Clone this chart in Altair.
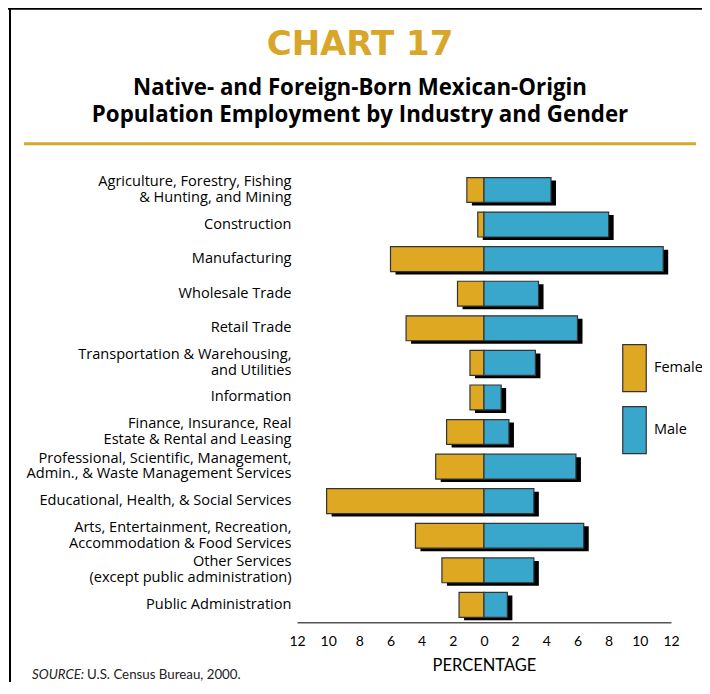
import altair as alt
import pandas as pd

industries = [
    "Agriculture, Forestry, Fishing\n& Hunting, and Mining",
    "Construction",
    "Manufacturing",
    "Wholesale Trade",
    "Retail Trade",
    "Transportation & Warehousing,\nand Utilities",
    "Information",
    "Finance, Insurance, Real \nEstate & Rental and Leasing",
    "Professional, Scientific, Management,\nAdmin., & Waste Management Services",
    "Educational, Health, & Social Services",
    "Arts, Entertainment, Recreation,\nAccommodation & Food Services",
    "Other Services\n(except public administration)",
    "Public Administration",
]
female = [1.1, 0.4, 6.0, 1.7, 5.0, 0.9, 0.9, 2.4, 3.1, 10.1, 4.4, 2.7, 1.6]
male = [4.3, 8.0, 11.5, 3.5, 6.0, 3.3, 1.1, 1.6, 5.9, 3.2, 6.4, 3.2, 1.5]
x_ticks = [-12, -10, -8, -6, -4, -2, 0, 2, 4, 6, 8, 10, 12]

chart_label = "CHART 17"
subtitle_lines = ["Native- and Foreign-Born Mexican-Origin",
                  "Population Employment by Industry and Gender"]

GOLD = "#DFA823"
BLUE = "#39A6CC"

rows = []
for ind, f, m in zip(industries, female, male):
    rows.append({"industry": ind, "gender": "Female", "start": -f, "end": 0.0})
    rows.append({"industry": ind, "gender": "Male", "start": 0.0, "end": m})
bars_df = pd.DataFrame(rows)
shadow_df = pd.DataFrame({"industry": industries,
                          "lo": [-v for v in female], "hi": male})
one = pd.DataFrame({"k": [0]})

xscale = alt.Scale(domain=[-12, 12], nice=False)
xaxis = alt.Axis(values=x_ticks, labelExpr="abs(datum.value)", title="PERCENTAGE",
                 grid=False, ticks=False, domain=True, domainColor="#555",
                 domainWidth=1.5, labelFontSize=14, labelPadding=12, labelFlush=False,
                 titleFontSize=16.5, titleFontWeight="normal", titlePadding=9,
                 labelColor="black", titleColor="black")
yenc = alt.Y("industry:N", sort=industries, title=None,
             scale=alt.Scale(paddingInner=0.28, paddingOuter=0.14),
             axis=alt.Axis(labelExpr="split(datum.label, '\\n')", domain=False,
                           ticks=False, labelPadding=6, labelFontSize=14.6,
                           labelFont="Open Sans",
                           labelOffset=alt.condition("indexof(datum.value, '\\n') >= 0",
                                                     alt.value(-8), alt.value(0)),
                           labelLineHeight=15.8, labelLimit=400, labelColor="black"))

shadow = alt.Chart(shadow_df).mark_bar(
    color="black", xOffset=5, x2Offset=5, yOffset=3, y2Offset=3
).encode(
    x=alt.X("lo:Q", scale=xscale, axis=xaxis),
    x2="hi:Q",
    y=yenc,
)

bars = alt.Chart(bars_df).mark_bar(stroke="#333", strokeWidth=1.2).encode(
    x=alt.X("start:Q", scale=xscale, axis=xaxis),
    x2="end:Q",
    y=yenc,
    color=alt.Color("gender:N",
                    scale=alt.Scale(domain=["Female", "Male"], range=[GOLD, BLUE]),
                    legend=alt.Legend(orient="none", legendX=325, legendY=183,
                                      direction="vertical", title=None,
                                      symbolType="M-1,-2L1,-2L1,2L-1,2Z",
                                      symbolSize=552, symbolStrokeColor="#333",
                                      symbolStrokeWidth=1.2, symbolOpacity=1,
                                      labelFontSize=14.5, labelOffset=7,
                                      labelFont="Open Sans",
                                      rowPadding=9, labelColor="black")),
)

gold_rule = alt.Chart(one).mark_rule(color="#DAA62A", strokeWidth=3).encode(
    x=alt.value(-273), x2=alt.value(399), y=alt.value(-29)
)
top_border = alt.Chart(one).mark_rule(color="black", strokeWidth=2).encode(
    x=alt.value(-289), x2=alt.value(425), y=alt.value(-164)
)
left_border = alt.Chart(one).mark_rule(color="black", strokeWidth=2).encode(
    x=alt.value(-287), y=alt.value(-165), y2=alt.value(522)
)
title_text = alt.Chart(one).mark_text(align="center", baseline="alphabetic",
                                      font="DejaVu Sans", fontSize=34,
                                      fontWeight="bold", color="#D8A628").encode(
    x=alt.value(63), y=alt.value(-118), text=alt.value(chart_label)
)
sub1 = alt.Chart(one).mark_text(align="center", baseline="alphabetic", font="Open Sans",
                                fontSize=22.3, fontWeight="bold", color="black").encode(
    x=alt.value(63), y=alt.value(-78), text=alt.value(subtitle_lines[0])
)
sub2 = alt.Chart(one).mark_text(align="center", baseline="alphabetic", font="Open Sans",
                                fontSize=22.3, fontWeight="bold", color="black").encode(
    x=alt.value(63), y=alt.value(-51), text=alt.value(subtitle_lines[1])
)
src1 = alt.Chart(one).mark_text(align="left", baseline="middle", fontSize=13.3,
                                fontStyle="italic", color="#222").encode(
    x=alt.value(32 - 297), y=alt.value(675 - 172.7), text=alt.value("SOURCE:")
)
src2 = alt.Chart(one).mark_text(align="left", baseline="middle", fontSize=13.3,
                                color="#222").encode(
    x=alt.value(87 - 297), y=alt.value(675 - 172.7),
    text=alt.value("U.S. Census Bureau, 2000.")
)

chart = alt.layer(shadow, bars, gold_rule, top_border, left_border,
                  title_text, sub1, sub2, src1, src2).properties(
    width=374,
    height=449.5,
    autosize=alt.AutoSizeParams(type="none"),
    padding={"left": 289, "top": 164.7, "right": 31, "bottom": 60},
).configure(font="Lato").configure_view(stroke=None)

chart.save("out.html", embed_options={"renderer": "svg", "actions": False})
